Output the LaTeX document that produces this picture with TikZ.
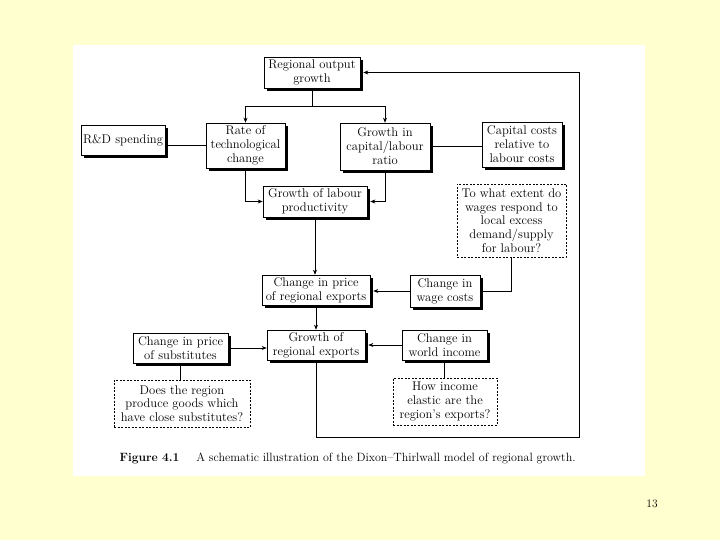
\documentclass[tikz,border=0pt]{standalone}
\usetikzlibrary{shadows,arrows.meta}
\definecolor{bgyellow}{RGB}{255,255,208}
\begin{document}
\begin{tikzpicture}[x=1pt,y=-1pt,
  box/.style={draw, fill=white, line width=0.6pt, align=center, inner sep=1pt,
    drop shadow={shadow xshift=3pt,shadow yshift=-3pt,fill=black,opacity=1},
    font=\fontsize{12.6}{14}\selectfont},
  qbox/.style={draw, fill=white, line width=0.6pt, dash pattern=on 2pt off 1.5pt,
    align=center, inner sep=1pt, font=\fontsize{12.6}{13.6}\selectfont},
  link/.style={line width=0.6pt},
  arr/.style={link, -{Stealth[length=5pt,width=4pt]}}]
\useasboundingbox (0,0) rectangle (720,540);
\fill[bgyellow] (0,0) rectangle (720,540);
\fill[white] (73,45) rectangle (645,476);

\node[box, minimum width=96pt, minimum height=31pt] (rog) at (312,72.5) {Regional output\\growth};
\node[box, minimum width=84pt, minimum height=30pt] (rd) at (123,140) {R\&D spending};
\node[box, minimum width=79pt, minimum height=45pt] (rtc) at (245.5,145.5) {Rate of\\technological\\change};
\node[box, minimum width=90pt, minimum height=47pt] (gkl) at (385,146.5) {Growth in\\capital/labour\\ratio};
\node[box, minimum width=80pt, minimum height=45pt] (cc) at (522,144.5) {Capital costs\\relative to\\labour costs};
\node[box, minimum width=104pt, minimum height=31pt] (glp) at (315,201.5) {Growth of labour\\productivity};
\node[qbox, minimum width=109pt, minimum height=73pt] (q1) at (511.5,220.5) {To what extent do\\wages respond to\\local excess\\demand/supply\\for labour?};
\node[box, minimum width=108pt, minimum height=30pt] (cpre) at (316,290) {Change in price\\of regional exports};
\node[box, minimum width=70pt, minimum height=32pt] (cwc) at (445,291) {Change in\\wage costs};
\node[box, minimum width=95pt, minimum height=30pt] (cps) at (180.5,348) {Change in price\\of substitutes};
\node[box, minimum width=98pt, minimum height=30pt] (gre) at (316,345) {Growth of\\regional exports};
\node[box, minimum width=85pt, minimum height=30pt] (cwi) at (444.5,345) {Change in\\world income};
\node[qbox, minimum width=136pt, minimum height=47pt] (q2) at (182,403.5) {Does the region\\produce goods which\\have close substitutes?};
\node[qbox, minimum width=104pt, minimum height=47pt] (q3) at (445,401.5) {How income\\elastic are the\\region's exports?};

\coordinate (j1) at (313,106);
\draw[link] (rog.south) -- (rog.south |- j1);
\draw[arr] (rog.south |- j1) -| (rtc.north);
\draw[arr] (rog.south |- j1) -| (gkl.north);
\draw[link] (rd.east |- rtc.west) -- (rtc.west);
\draw[link] (gkl.east) -- (cc.west |- gkl.east);
\draw[arr] (rtc.south) |- (glp.west);
\draw[arr] (gkl.south) |- ([xshift=3pt]glp.east);
\draw[arr] (glp.south) -- (glp.south |- cpre.north);
\draw[link] (q1.south) |- ([xshift=3pt]cwc.east);
\draw[arr] (cwc.west) -- ([xshift=3pt]cpre.east |- cwc.west);
\draw[arr] (cpre.south) -- (cpre.south |- gre.north);
\draw[arr] (cps.east) -- (gre.west |- cps.east);
\draw[arr] (cwi.west) -- ([xshift=3pt]gre.east |- cwi.west);
\draw[link] (cps.south) -- (cps.south |- q2.north);
\draw[link] (cwi.south) -- (cwi.south |- q3.north);
\coordinate (lb) at (579,437);
\draw[arr] (gre.south) |- (lb) -- (lb |- rog.east) -- ([xshift=3pt]rog.east);

\node[anchor=base west, font=\fontsize{12}{14}\selectfont] (cap) at (116,461)
  {\textbf{Figure 4.1}\hspace{1.4em}A schematic illustration of the Dixon--Thirlwall model of regional growth.};
\node[font=\fontsize{11.5}{13}\selectfont] (pg) at (652,504) {13};
\end{tikzpicture}
\end{document}
